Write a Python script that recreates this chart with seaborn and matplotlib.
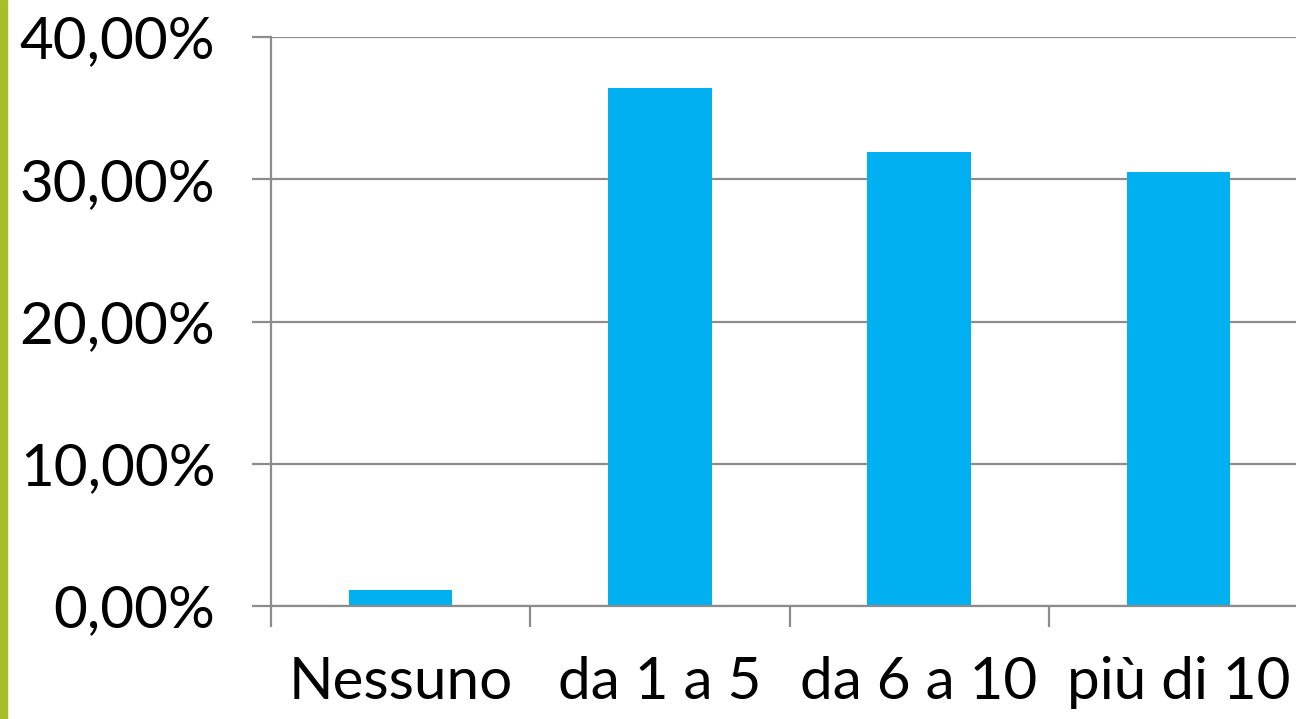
import matplotlib
matplotlib.use("Agg")
import matplotlib.pyplot as plt
import seaborn as sns
import pandas as pd
from matplotlib.ticker import FuncFormatter, FixedLocator
from matplotlib.patches import Rectangle

categories = ["Nessuno", "da 1 a 5", "da 6 a 10", "più di 10"]
values = [1.1, 36.4, 31.9, 30.5]
yticks = [0, 10, 20, 30, 40]

sns.set_theme(style="white")
plt.rcParams['font.family'] = ['Lato', 'DejaVu Sans']

fig = plt.figure(figsize=(12.96, 7.19), dpi=100)
# axes extends slightly past right edge like the reference
ax = fig.add_axes([271/1296, (719-606)/719, (1308-271)/1296, (606-37)/719])

df = pd.DataFrame({"cat": categories, "val": values})
sns.barplot(data=df, x="cat", y="val", color="#00B0F0", width=0.4, ax=ax,
            saturation=1, edgecolor="none")

ax.set_xlim(-0.5, 3.5)
ax.set_ylim(0, 40)
ax.set_yticks(yticks)
ax.yaxis.set_major_formatter(FuncFormatter(lambda v, p: f"{v:.2f}%".replace(".", ",")))
ax.grid(axis="y", color="#8c8c8c", linewidth=1.6)
ax.set_axisbelow(True)
for s in ["top", "right"]:
    ax.spines[s].set_visible(False)
for s in ["left", "bottom"]:
    ax.spines[s].set_visible(True)
    ax.spines[s].set_color("#8c8c8c")
    ax.spines[s].set_linewidth(1.6)

ax.set_xlabel("")
ax.set_ylabel("")
ax.tick_params(axis="y", which="major", direction="out", length=14, width=1.6,
               color="#8c8c8c", labelsize=42, pad=26, left=True, labelcolor="black")
ax.tick_params(axis="x", which="major", length=0, labelsize=42, pad=36, labelcolor="black")
ax.xaxis.set_minor_locator(FixedLocator([-0.5, 0.5, 1.5, 2.5, 3.5]))
ax.tick_params(axis="x", which="minor", direction="out", length=15, width=1.6,
               color="#8c8c8c", bottom=True)

# green accent strip at left edge
fig.patches.append(Rectangle((0, 0), 7/1296, 1, transform=fig.transFigure,
                             color="#A9BD2A", zorder=10))

fig.savefig("out.png", dpi=100)
